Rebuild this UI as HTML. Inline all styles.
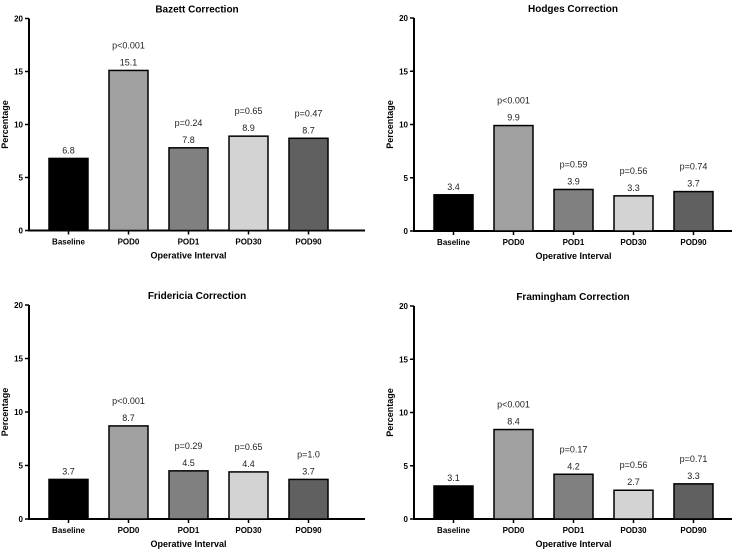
<!DOCTYPE html>
<html><head><meta charset="utf-8"><style>
body{margin:0;background:#fff;font-family:"Liberation Sans",Arial,sans-serif}
svg text{font-family:"Liberation Sans",Arial,sans-serif}
</style></head><body>
<svg id="c" width="739" height="552"></svg>
<script>
const categories=["Baseline","POD0","POD1","POD30","POD90"];
const bazettValues=[6.8,15.1,7.8,8.9,8.7];
const bazettP=["","p<0.001","p=0.24","p=0.65","p=0.47"];
const hodgesValues=[3.4,9.9,3.9,3.3,3.7];
const hodgesP=["","p<0.001","p=0.59","p=0.56","p=0.74"];
const fridericiaValues=[3.7,8.7,4.5,4.4,3.7];
const fridericiaP=["","p<0.001","p=0.29","p=0.65","p=1.0"];
const framinghamValues=[3.1,8.4,4.2,2.7,3.3];
const framinghamP=["","p<0.001","p=0.17","p=0.56","p=0.71"];
const yTicks=[0,5,10,15,20];
const colors=["#000000","#a0a0a0","#808080","#d3d3d3","#606060"];
const panels=[
 {name:"bazett",title:"Bazett Correction",vals:bazettValues,ps:bazettP,ax:29,top:18.5,bot:230.5,xend:365,xtitle:"Operative Interval"},
 {name:"hodges",title:"Hodges Correction",vals:hodgesValues,ps:hodgesP,ax:414,top:18,bot:231,xend:732,xtitle:"Operative  Interval"},
 {name:"fridericia",title:"Fridericia Correction",vals:fridericiaValues,ps:fridericiaP,ax:29,top:305,bot:519,xend:365,xtitle:"Operative Interval"},
 {name:"framingham",title:"Framingham Correction",vals:framinghamValues,ps:framinghamP,ax:414,top:306,bot:519,xend:732,xtitle:"Operative Interval"}
];
const svg=document.getElementById('c');
const NS="http://www.w3.org/2000/svg";
function mk(t,a,txt){const e=document.createElementNS(NS,t);for(const k in a)e.setAttribute(k,a[k]);if(txt!==undefined)e.textContent=txt;return e;}
panels.forEach(p=>{
 const g=mk('g',{});
 
 
 svg.appendChild(g);
 const y=v=>p.bot-(v/20)*(p.bot-p.top);
 const bx=i=>p.ax+20+i*60;
 const bw=39;
 const cx=(p.ax+p.xend)/2;
 const t=mk('text',{x:cx,y:p.top-6,'text-anchor':'middle','font-size':'10','font-weight':'bold'},p.title);
 
 
 g.appendChild(t);
 const ya=mk('line',{x1:p.ax,x2:p.ax,y1:p.top,y2:p.bot,stroke:'#000','stroke-width':'2'});
 
 
 g.appendChild(ya);
 const xa=mk('line',{x1:p.ax-1,x2:p.xend,y1:p.bot,y2:p.bot,stroke:'#000','stroke-width':'2'});
 
 
 g.appendChild(xa);
 yTicks.forEach(v=>{
  g.appendChild(mk('line',{x1:p.ax-4,x2:p.ax,y1:y(v),y2:y(v),stroke:'#000','stroke-width':'1.5'}));
  const tl=mk('text',{x:p.ax-6,y:y(v)+3,'text-anchor':'end','font-size':'8','font-weight':'bold'},v);
  
  
  g.appendChild(tl);
 });
 const yt=mk('text',{transform:`translate(${p.ax-21},${(p.top+p.bot)/2}) rotate(-90)`,'text-anchor':'middle','font-size':'9','font-weight':'bold'},'Percentage');
 
 
 g.appendChild(yt);
 categories.forEach((c,i)=>{
  const r=mk('rect',{x:bx(i),y:y(p.vals[i]),width:bw,height:p.bot-y(p.vals[i]),fill:colors[i],stroke:'#000','stroke-width':'1.5'});
  
  
  g.appendChild(r);
  const vl=mk('text',{x:bx(i)+bw/2,y:y(p.vals[i])-5,'text-anchor':'middle','font-size':'9','fill':'#222'},p.vals[i].toFixed(1));
  
  
  g.appendChild(vl);
  if(p.ps[i]){
   const pl=mk('text',{x:bx(i)+bw/2,y:y(p.vals[i])-22,'text-anchor':'middle','font-size':'9','fill':'#222'},p.ps[i]);
   
   
   g.appendChild(pl);
  }
  g.appendChild(mk('line',{x1:bx(i)+bw/2,x2:bx(i)+bw/2,y1:p.bot,y2:p.bot+4,stroke:'#000','stroke-width':'1.5'}));
  const xl=mk('text',{x:bx(i)+bw/2,y:p.bot+14,'text-anchor':'middle','font-size':'8','font-weight':'bold'},c);
  
  
  g.appendChild(xl);
 });
 const xt=mk('text',{x:bx(2)+bw/2,y:p.bot+28,'text-anchor':'middle','font-size':'9','font-weight':'bold'},p.xtitle);
 
 
 g.appendChild(xt);
});
</script>
</body></html>
